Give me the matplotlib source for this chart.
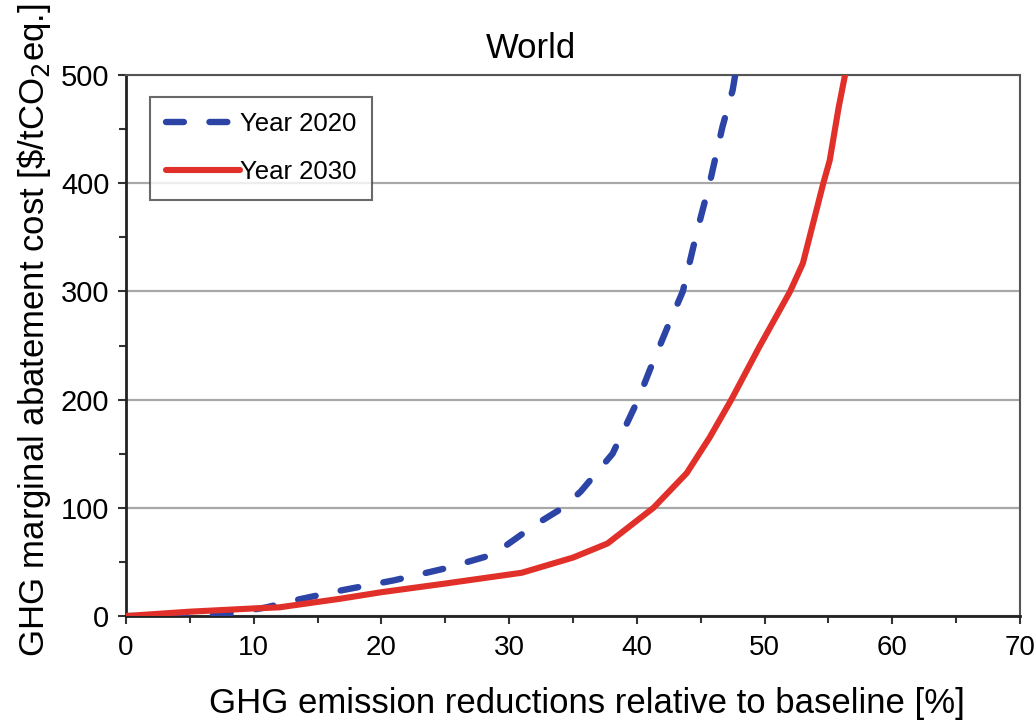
import matplotlib
matplotlib.use('Agg')
import matplotlib.pyplot as plt
from matplotlib.ticker import MultipleLocator

plt.rcParams['font.family'] = ['Liberation Sans', 'DejaVu Sans']

# marginal abatement cost curves, world
x_2020 = [0, 5, 8, 11, 13, 17, 21, 25, 28.5, 29.5, 32, 34.2, 35.6, 38.1, 40.1,
          41.0, 42.4, 43.6, 44.7, 45.7, 46.7, 47.5, 47.7]
y_2020 = [0, -1, 2, 8, 14, 24, 33, 44, 56, 63, 84, 100, 115, 150, 200,
          227, 267, 300, 355, 400, 452, 486, 500]

x_2030 = [0, 5, 10, 12, 16.8, 20, 25, 31, 35, 37.7, 41.3, 43.9, 45.7, 47.4,
          49.6, 52.0, 53.0, 54.6, 55.1, 55.8, 56.3]
y_2030 = [0, 4, 7, 8, 16, 22, 30, 40, 54, 67, 100, 132, 165, 200,
          249, 300, 326, 400, 421, 470, 500]

fig = plt.figure(figsize=(10.36, 7.24), dpi=100)
ax = fig.add_axes([126 / 1036, 1 - 616 / 724, (1020 - 126) / 1036, (616 - 75) / 724])

ax.plot(x_2020, y_2020, color='#2b44a6', lw=4.6, dashes=(2.8, 4.0),
        dash_capstyle='round', solid_joinstyle='round', label='Year 2020', zorder=3)
ax.plot(x_2030, y_2030, color='#e1302a', lw=4.4, solid_capstyle='round',
        solid_joinstyle='round', label='Year 2030', zorder=4)

ax.set_xlim(0, 70)
ax.set_ylim(0, 500)
ax.xaxis.set_major_locator(MultipleLocator(10))
ax.xaxis.set_minor_locator(MultipleLocator(5))
ax.yaxis.set_major_locator(MultipleLocator(100))
ax.yaxis.set_minor_locator(MultipleLocator(50))
ax.tick_params(which='both', direction='out', width=1.5, color='#333333')
ax.tick_params(which='major', length=6)
ax.tick_params(which='minor', length=5)
ax.tick_params(axis='y', labelsize=21, pad=6)
ax.tick_params(axis='x', labelsize=20, pad=8)

ax.grid(axis='y', color='#a8a8a8', lw=1.6)
ax.set_axisbelow(True)
for side in ['left', 'bottom']:
    ax.spines[side].set_linewidth(2)
    ax.spines[side].set_color('#222222')
for side in ['top', 'right']:
    ax.spines[side].set_linewidth(1.5)
    ax.spines[side].set_color('#555555')

ax.set_title('World', fontsize=25, x=0.453, pad=12)
ax.set_xlabel('GHG emission reductions relative to baseline [%]', fontsize=25)
ax.xaxis.set_label_coords(0.516, -0.132)
ax.set_ylabel(r'GHG marginal abatement cost [\$/tCO$_2$eq.]', fontsize=25)
ax.yaxis.set_label_coords(-0.082, 0.528)

leg = ax.legend(loc='upper left', bbox_to_anchor=(0.027, 0.96), fontsize=18.5,
                frameon=True, fancybox=False, handlelength=2.9,
                handletextpad=0.0, borderpad=0.6, labelspacing=0.95,
                borderaxespad=0)
leg.get_frame().set_edgecolor('#444444')
leg.get_frame().set_linewidth(1.5)

fig.savefig('out.png', dpi=100)
